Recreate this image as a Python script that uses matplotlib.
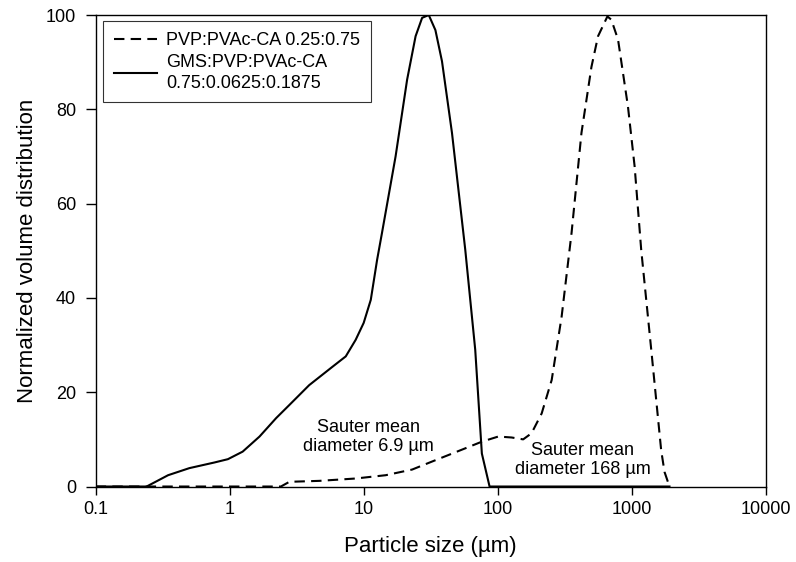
import matplotlib.pyplot as plt

plt.rcParams['font.family'] = ['Liberation Sans', 'DejaVu Sans']

# PVP:PVAc-CA 0.25:0.75 (dashed)
pvp_size = [0.1, 2.41, 2.79, 4.66, 8.71, 14.6, 23, 32.4, 57.3, 76, 101, 127, 155, 179,
            213, 253, 300, 356, 422, 501, 561, 659, 705, 791, 938, 1052, 1178, 1400,
            1660, 1758, 1915]
pvp_vol = [0, 0, 1.0, 1.2, 1.7, 2.4, 3.6, 5.3, 8.1, 9.5, 10.6, 10.4, 10.0, 11.3,
           15.5, 22.6, 36, 53.8, 75, 89, 95.5, 99.7, 99, 94.8, 80.6, 67.9, 50.2, 29,
           7.7, 3.1, 0]

# GMS:PVP:PVAc-CA 0.75:0.0625:0.1875 (solid)
gms_size = [0.1, 0.24, 0.347, 0.50, 0.77, 0.97, 1.25, 1.67, 2.22, 2.79, 3.92, 5.85,
            7.35, 8.71, 10.0, 11.3, 12.6, 13.7, 17.3, 21.1, 24.4, 27.3, 30.6, 34.3,
            38.4, 45.6, 57.3, 68, 76.2, 87, 1915]
gms_vol = [0, 0, 2.4, 3.9, 5.1, 5.8, 7.4, 10.6, 14.5, 17.3, 21.5, 25.4, 27.6, 31.1,
           34.7, 39.6, 48.1, 53.8, 70, 86.3, 95.5, 99.4, 100, 96.8, 90.2, 75, 50.2,
           29, 7, 0, 0]

fig = plt.figure(figsize=(7.96, 5.62), dpi=100)
ax = fig.add_axes([0.1202, 0.1343, 0.8417, 0.839])

ax.plot(pvp_size, pvp_vol, color='black', lw=1.5, ls=(0, (5, 3)),
        label='PVP:PVAc-CA 0.25:0.75')
ax.plot(gms_size, gms_vol, color='black', lw=1.5, ls='-',
        label='GMS:PVP:PVAc-CA\n0.75:0.0625:0.1875')

ax.set_xscale('log')
ax.set_xlim(0.1, 10000)
ax.set_ylim(0, 100)
ax.set_xticks([0.1, 1, 10, 100, 1000, 10000])
ax.set_xticklabels(['0.1', '1', '10', '100', '1000', '10000'])
ax.xaxis.set_minor_locator(plt.NullLocator())
ax.set_yticks([0, 20, 40, 60, 80, 100])
ax.tick_params(axis='both', direction='out', width=1, labelsize=13)
ax.tick_params(axis='x', length=6, pad=4.5)
ax.tick_params(axis='y', length=7, pad=7)
for s in ax.spines.values():
    s.set_linewidth(1)

ax.set_xlabel('Particle size (\u00b5m)', fontsize=16, labelpad=13)
ax.set_ylabel('Normalized volume distribution', fontsize=16, labelpad=6)

ax.text(10.9, 10.5, 'Sauter mean\ndiameter 6.9 \u00b5m', ha='center', va='center',
        fontsize=13, linespacing=1.15)
ax.text(433, 5.6, 'Sauter mean\ndiameter 168 \u00b5m', ha='center', va='center',
        fontsize=13, linespacing=1.15)

leg = ax.legend(loc='upper left', bbox_to_anchor=(0.011, 0.987), borderaxespad=0,
                fontsize=13, frameon=True, fancybox=False, edgecolor='black',
                handlelength=2.4, handletextpad=0.5, borderpad=0.6,
                labelspacing=0.3)
leg.get_frame().set_linewidth(0.8)
for t in leg.get_texts():
    t.set_linespacing(1.25)

fig.savefig('out.png', dpi=100)
